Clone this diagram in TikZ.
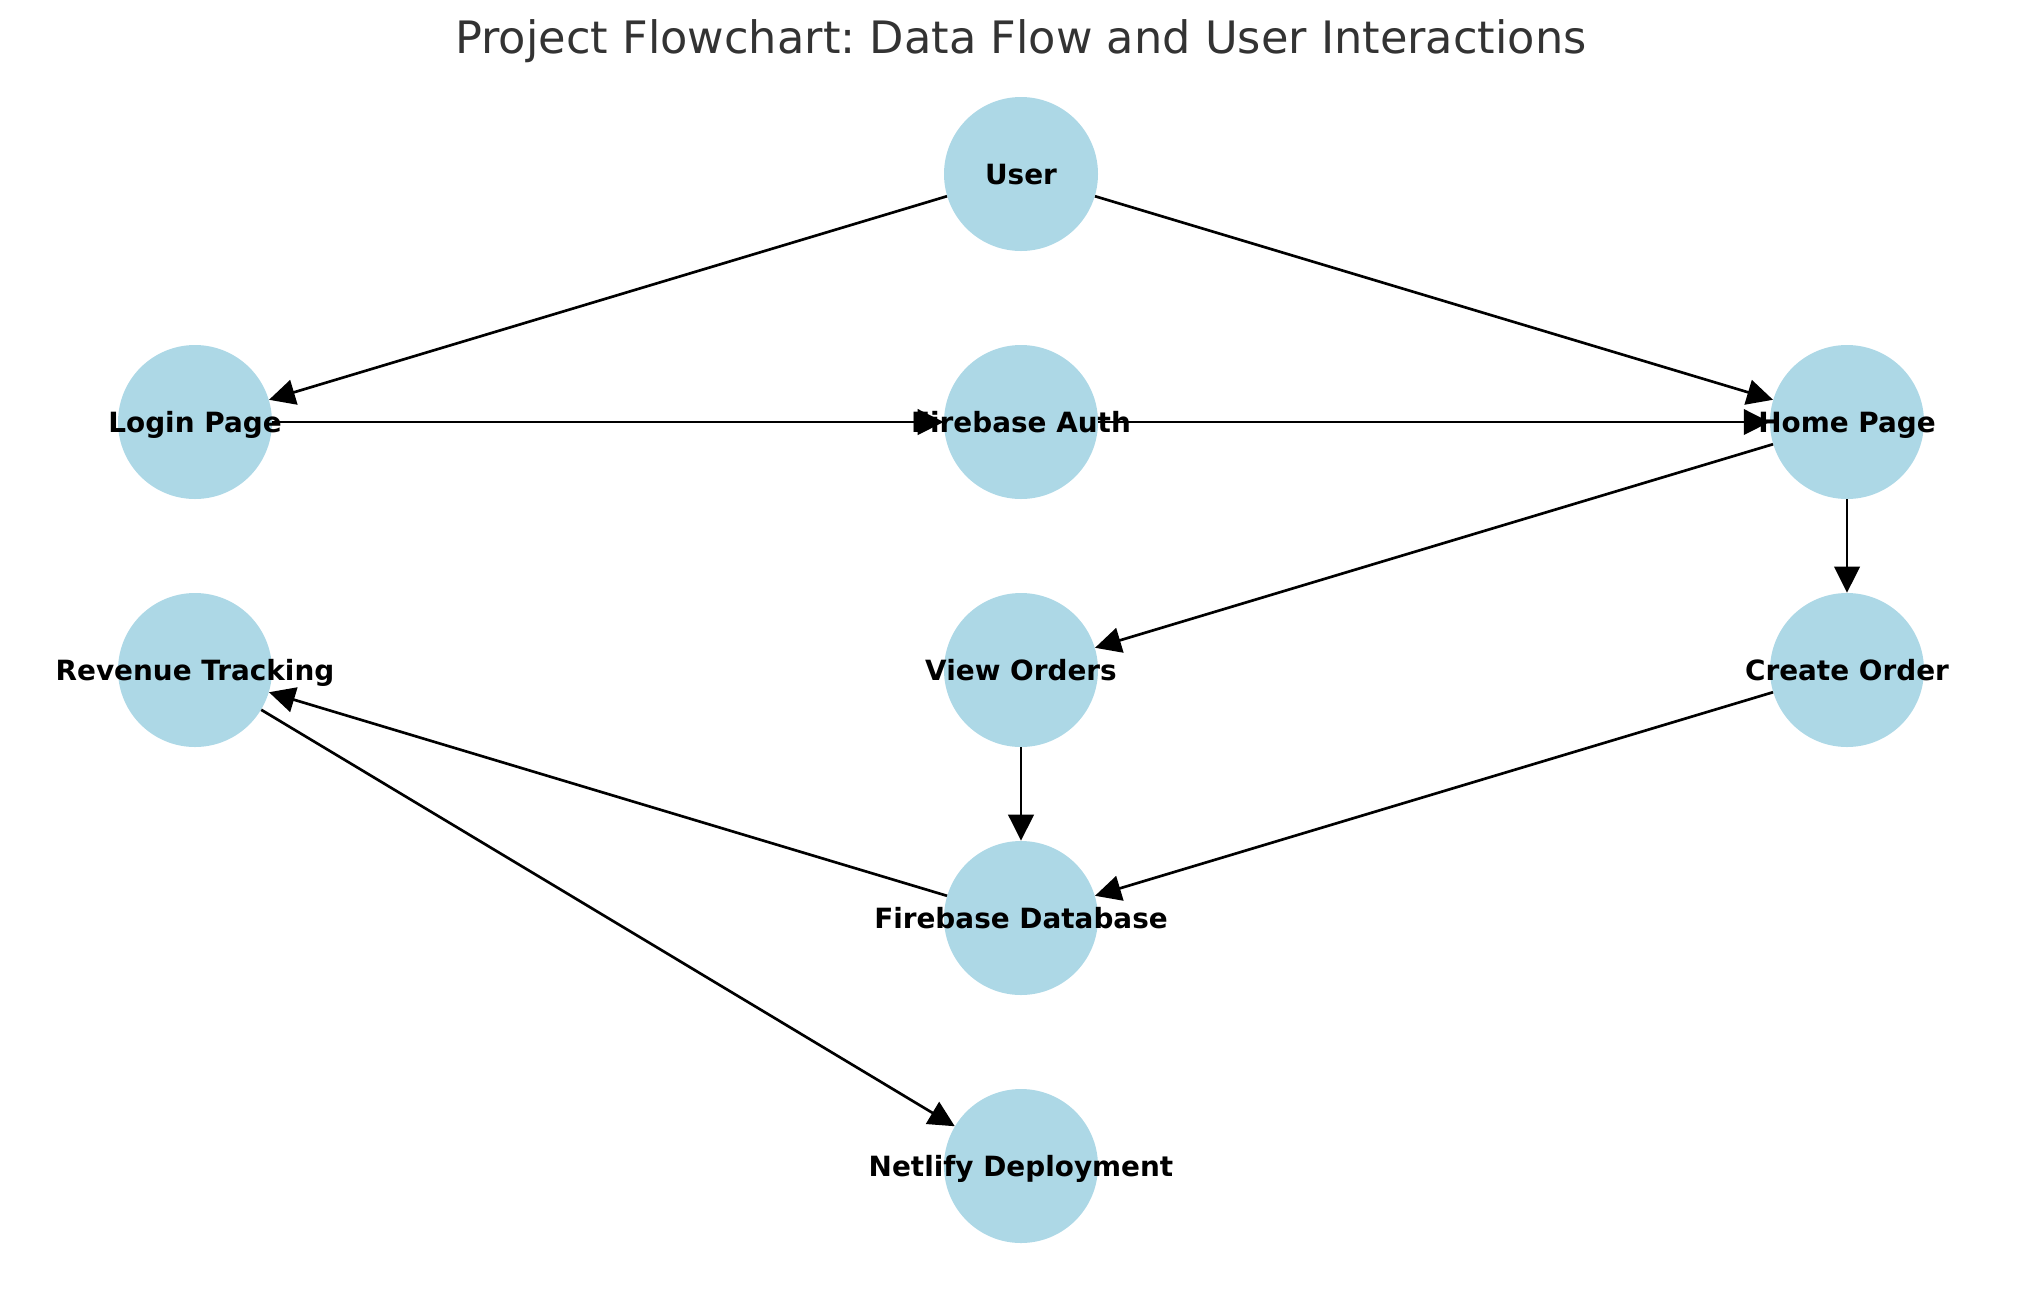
\documentclass[tikz,border=0pt]{standalone}
\usepackage{fontspec}
\setmainfont{DejaVu Sans}
\usetikzlibrary{arrows.meta}
\definecolor{nodeblue}{HTML}{ADD8E6}
\definecolor{titlegray}{HTML}{333333}
\frenchspacing
\begin{document}
\begin{tikzpicture}[x=0.75pt,y=-0.75pt,
  vertex/.style={circle, fill=nodeblue, minimum size=115.5pt, inner sep=0pt},
  lbl/.style={anchor=base, font=\fontsize{20.9}{24}\selectfont\bfseries, text=black, inner sep=0pt},
  flow/.style={-{Triangle[length=19.5pt,width=19pt]}, line width=2pt, black}]
\useasboundingbox (0,0) rectangle (2039,1290);
\node[anchor=base, inner sep=0pt, font=\fontsize{33.5}{40}\selectfont, text=titlegray] (title) at (1021,53) {Project Flowchart: Data Flow and User Interactions};
% circles
\node[vertex] (user) at (1021,174) {};
\node[vertex] (login) at (195,422) {};
\node[vertex] (auth) at (1021,422) {};
\node[vertex] (home) at (1847,422) {};
\node[vertex] (revenue) at (195,670) {};
\node[vertex] (view) at (1021,670) {};
\node[vertex] (create) at (1847,670) {};
\node[vertex] (db) at (1021,918) {};
\node[vertex] (netlify) at (1021,1166) {};
% edges
\draw[flow] (user) -- (login);
\draw[flow] (user) -- (home);
\draw[flow] (login) -- (auth);
\draw[flow] (auth) -- (home);
\draw[flow] (home) -- (view);
\draw[flow] (home) -- (create);
\draw[flow] (view) -- (db);
\draw[flow] (create) -- (db);
\draw[flow] (db) -- (revenue);
\draw[flow] (revenue) -- (netlify);
% labels
\node[lbl] (userL) at (1021,184) {User};
\node[lbl] (loginL) at (195,432) {Login Page};
\node[lbl] (authL) at (1021,432) {Firebase Auth};
\node[lbl] (homeL) at (1847,432) {Home Page};
\node[lbl] (revenueL) at (195,680) {Revenue Tracking};
\node[lbl] (viewL) at (1021,680) {View Orders};
\node[lbl] (createL) at (1847,680) {Create Order};
\node[lbl] (dbL) at (1021,928) {Firebase Database};
\node[lbl] (netlifyL) at (1021,1176) {Netlify Deployment};
\end{tikzpicture}
\end{document}
